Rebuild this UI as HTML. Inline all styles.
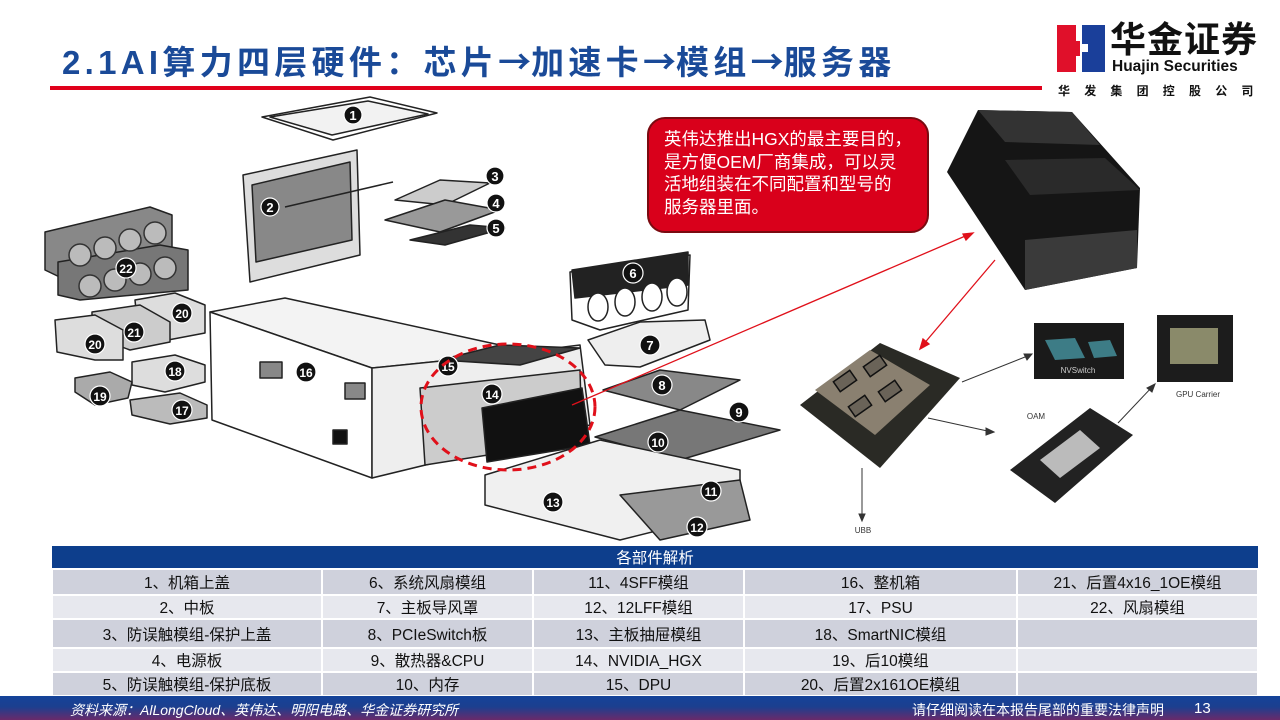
<!DOCTYPE html>
<html><head><meta charset="utf-8"><style>
*{margin:0;padding:0;box-sizing:border-box}
body{width:1280px;height:720px;overflow:hidden;background:#fff;font-family:"Liberation Sans","Noto Sans CJK SC",sans-serif;position:relative}
.abs{position:absolute}
.title{left:62px;top:36px;font-size:33px;font-weight:bold;color:#1a4a98;letter-spacing:4.3px;white-space:nowrap}
.title span{font-family:"Noto Sans CJK SC",sans-serif;letter-spacing:0}
.redline{left:50px;top:86px;width:992px;height:4px;background:#e0001b}
.callout{left:647px;top:117px;width:282px;height:116px;background:#d9001b;border:2px solid #7a0a10;border-radius:18px;color:#fff;font-size:17.5px;line-height:22.5px;padding:9px 0 0 15px;white-space:nowrap}
table{position:absolute;left:51px;top:546px;width:1208px;border-collapse:collapse;font-size:15.5px;color:#111}
td{text-align:center;border:2px solid #fff;padding:0;white-space:nowrap}
tr.h td{background:#0d3e8c;color:#fff;height:21px;border:none}
tr.a td{background:#cfd1dc}
tr.b td{background:#e7e8ee}
.foot{left:0;top:696px;width:1280px;height:24px;background:linear-gradient(180deg,#14439a 0%,#1c3f8f 45%,#6a2a6a 100%)}
</style></head><body>
<div class="abs title">2.1AI算力四层硬件：芯片<span>→</span>加速卡<span>→</span>模组<span>→</span>服务器</div>
<div class="abs redline"></div>

<div class="abs" style="left:1057px;top:25px;width:23px;height:47px;background:#e0102a"></div>
<div class="abs" style="left:1082px;top:25px;width:23px;height:47px;background:#1a3f9a"></div>
<div class="abs" style="left:1076px;top:25px;width:6px;height:16px;background:#fff"></div>
<div class="abs" style="left:1076px;top:56px;width:6px;height:16px;background:#fff"></div>
<div class="abs" style="left:1080px;top:44px;width:8px;height:8px;background:#fff"></div>
<div class="abs" style="left:1110px;top:20px;font-size:36px;font-weight:bold;color:#111;letter-spacing:1px;line-height:40px">华金证券</div>
<div class="abs" style="left:1112px;top:58px;font-size:15.5px;font-weight:bold;color:#111">Huajin Securities</div>
<div class="abs" style="left:1058px;top:82px;font-size:12px;font-weight:bold;color:#111;letter-spacing:14.2px">华发集团控股公司</div>

<svg class="abs" style="left:0;top:0" width="1280" height="545" viewBox="0 0 1280 545">
<g stroke="#222" stroke-width="1.5" fill="#fff" stroke-linejoin="round">
 <polygon points="262,117 370,97 437,113 333,140"/>
 <polygon points="270,117 368,101 428,114 332,135" fill="#f2f2f2"/>
 <polygon points="243,175 357,150 360,255 250,282" fill="#ddd"/>
 <polygon points="252,185 350,162 352,240 256,262" fill="#888"/>
 <line x1="285" y1="207" x2="393" y2="182"/>
 <polygon points="395,200 440,180 490,183 445,205" fill="#ccc"/>
 <polygon points="385,220 445,200 500,210 440,232" fill="#999"/>
 <polygon points="410,240 470,225 505,228 445,245" fill="#333"/>
 <polygon points="45,232 150,207 172,215 172,255 70,282 45,270" fill="#888"/>
 <polygon points="58,262 160,245 188,250 188,290 80,300 58,295" fill="#777"/>
 <g fill="#bbb" stroke="#333"><circle cx="80" cy="255" r="11"/><circle cx="105" cy="248" r="11"/><circle cx="130" cy="240" r="11"/><circle cx="155" cy="233" r="11"/><circle cx="90" cy="286" r="11"/><circle cx="115" cy="280" r="11"/><circle cx="140" cy="274" r="11"/><circle cx="165" cy="268" r="11"/></g>
 <polygon points="135,300 175,293 205,305 205,333 168,340 138,330" fill="#ddd"/>
 <polygon points="92,312 140,305 170,322 170,342 130,350 92,336" fill="#ccc"/>
 <polygon points="55,320 95,315 123,330 123,360 95,360 57,352" fill="#ddd"/>
 <polygon points="132,362 175,355 205,365 205,382 165,392 132,385" fill="#ddd"/>
 <polygon points="75,378 110,372 132,382 128,398 95,405 75,392" fill="#aaa"/>
 <polygon points="130,400 180,393 207,405 207,418 170,424 132,415" fill="#bbb"/>
 <polygon points="210,312 285,298 500,345 500,355 372,368" fill="#f3f3f3"/>
 <polygon points="210,312 372,368 372,478 212,420"/>
 <polygon points="372,368 500,355 580,345 590,425 372,478" fill="#eee"/>
 <rect x="260" y="362" width="22" height="16" fill="#888"/>
 <rect x="345" y="383" width="20" height="16" fill="#888"/>
 <rect x="333" y="430" width="14" height="14" fill="#111"/>
 <polygon points="420,388 580,370 582,440 425,465" fill="#ccc"/>
 <polygon points="482,408 582,388 590,445 487,462" fill="#111"/>
 <polygon points="440,360 500,345 580,348 520,365" fill="#444"/>
 <polygon points="570,272 690,255 688,310 600,330 572,320" fill="#fff"/>
 <polygon points="572,270 688,252 688,285 575,298" fill="#222"/>
 <g fill="#fff"><ellipse cx="598" cy="307" rx="10" ry="14"/><ellipse cx="625" cy="302" rx="10" ry="14"/><ellipse cx="652" cy="297" rx="10" ry="14"/><ellipse cx="677" cy="292" rx="10" ry="14"/></g>
 <polygon points="588,340 640,322 705,320 710,340 640,367 605,365" fill="#eee"/>
 <polygon points="603,390 660,370 740,380 680,410" fill="#888"/>
 <polygon points="595,437 680,410 780,430 680,460" fill="#777"/>
 <polygon points="485,475 600,440 740,470 740,510 620,540 485,505" fill="#f0f0f0"/>
 <polygon points="620,495 740,480 750,520 660,540" fill="#999"/>
</g>
<g font-family="Liberation Sans,sans-serif" font-weight="bold" font-size="13" text-anchor="middle">
 <g fill="#111" stroke="#fff" stroke-width="1.2">
  <circle cx="353" cy="115" r="9"/><circle cx="270" cy="207" r="9"/><circle cx="495" cy="176" r="9"/><circle cx="496" cy="203" r="9"/><circle cx="496" cy="228" r="9"/>
  <circle cx="126" cy="268" r="10"/><circle cx="182" cy="313" r="10"/><circle cx="95" cy="344" r="10"/><circle cx="134" cy="332" r="10"/><circle cx="175" cy="371" r="10"/><circle cx="100" cy="396" r="10"/><circle cx="182" cy="410" r="10"/><circle cx="306" cy="372" r="10"/><circle cx="448" cy="366" r="10"/><circle cx="492" cy="394" r="10"/>
  <circle cx="633" cy="273" r="10"/><circle cx="650" cy="345" r="10"/><circle cx="662" cy="385" r="10"/><circle cx="739" cy="412" r="10"/><circle cx="658" cy="442" r="10"/><circle cx="711" cy="491" r="10"/><circle cx="697" cy="527" r="10"/><circle cx="553" cy="502" r="10"/>
 </g>
 <g fill="#fff" stroke="none">
  <text x="353" y="120">1</text><text x="270" y="212">2</text><text x="495" y="181">3</text><text x="496" y="208">4</text><text x="496" y="233">5</text>
  <text x="126" y="273" font-size="12">22</text><text x="182" y="318" font-size="12">20</text><text x="95" y="349" font-size="12">20</text><text x="134" y="337" font-size="12">21</text><text x="175" y="376" font-size="12">18</text><text x="100" y="401" font-size="12">19</text><text x="182" y="415" font-size="12">17</text><text x="306" y="377" font-size="12">16</text><text x="448" y="371" font-size="12">15</text><text x="492" y="399" font-size="12">14</text>
  <text x="633" y="278">6</text><text x="650" y="350">7</text><text x="662" y="390">8</text><text x="739" y="417">9</text><text x="658" y="447" font-size="12">10</text><text x="711" y="496" font-size="12">11</text><text x="697" y="532" font-size="12">12</text><text x="553" y="507" font-size="12">13</text>
 </g>
</g>
<ellipse cx="508" cy="407" rx="87" ry="63" fill="none" stroke="#e0101a" stroke-width="3" stroke-dasharray="9,6"/>

<polygon points="978,110 1072,112 1140,188 1137,268 1025,290 947,172" fill="#151515"/>
<polygon points="978,110 1072,112 1100,145 1005,142" fill="#333"/>
<polygon points="1005,160 1105,158 1140,190 1030,195" fill="#2a2a2a"/>
<polygon points="1025,240 1137,230 1137,268 1025,290" fill="#3a3a3a"/>
<polygon points="800,405 880,343 960,378 880,468" fill="#2a2a25"/>
<polygon points="815,390 870,350 930,385 875,435" fill="#8a8070"/>
<g stroke="#111" stroke-width="1.5" fill="#6a6358"><rect x="835" y="375" width="20" height="12" transform="rotate(-35 845 381)"/><rect x="865" y="360" width="20" height="12" transform="rotate(-35 875 366)"/><rect x="850" y="400" width="20" height="12" transform="rotate(-35 860 406)"/><rect x="880" y="385" width="20" height="12" transform="rotate(-35 890 391)"/></g>
<rect x="1034" y="323" width="90" height="56" fill="#1a1a1a"/>
<polygon points="1045,340 1075,338 1085,358 1055,360" fill="#3d7c86"/>
<polygon points="1088,342 1110,340 1117,356 1094,358" fill="#3d7c86"/>
<text x="1078" y="373" font-family="Liberation Sans,sans-serif" font-size="8" fill="#ccc" text-anchor="middle">NVSwitch</text>
<rect x="1157" y="315" width="76" height="67" fill="#1c1c1c"/>
<rect x="1170" y="328" width="48" height="36" fill="#8a8a6a"/>
<polygon points="1010,470 1090,408 1133,435 1055,503" fill="#222"/>
<polygon points="1040,460 1080,430 1100,448 1060,478" fill="#bbb"/>
<g font-family="Liberation Sans,sans-serif" font-size="8" fill="#333" text-anchor="middle">
<text x="1198" y="397">GPU Carrier</text><text x="1036" y="419">OAM</text><text x="863" y="533">UBB</text></g>
<g stroke="#333" stroke-width="1" fill="#333">
<line x1="962" y1="382" x2="1030" y2="355"/><polygon points="1032,354 1024,354 1027,360"/>
<line x1="928" y1="418" x2="992" y2="432"/><polygon points="994,432 986,428 986,435"/>
<line x1="1118" y1="423" x2="1153" y2="386"/><polygon points="1155,384 1147,388 1152,392"/>
<line x1="862" y1="468" x2="862" y2="518"/><polygon points="862,521 859,514 865,514"/>
</g>
<g stroke="#e0101a" stroke-width="1.3" fill="#e0101a">
<line x1="572" y1="405" x2="970" y2="234"/><polygon points="973,233 963,234 966,240"/>
<line x1="995" y1="260" x2="922" y2="346"/><polygon points="920,349 923,339 929,344"/>
</g>
</svg>

<div class="abs callout">英伟达推出HGX的最主要目的，<br>是方便OEM厂商集成，可以灵<br>活地组装在不同配置和型号的<br>服务器里面。</div>

<table>
<tr class="h"><td colspan="5" style="height:21px">各部件解析</td></tr>
<tr class="a" style="height:26px"><td style="width:270px">1、机箱上盖</td><td style="width:211px">6、系统风扇模组</td><td style="width:211px">11、4SFF模组</td><td style="width:273px">16、整机箱</td><td>21、后置4x16_1OE模组</td></tr>
<tr class="b" style="height:24px"><td>2、中板</td><td>7、主板导风罩</td><td>12、12LFF模组</td><td>17、PSU</td><td>22、风扇模组</td></tr>
<tr class="a" style="height:29px"><td>3、防误触模组-保护上盖</td><td>8、PCIeSwitch板</td><td>13、主板抽屉模组</td><td>18、SmartNIC模组</td><td></td></tr>
<tr class="b" style="height:23px"><td>4、电源板</td><td>9、散热器&amp;CPU</td><td>14、NVIDIA_HGX</td><td>19、后10模组</td><td></td></tr>
<tr class="a" style="height:23px"><td>5、防误触模组-保护底板</td><td>10、内存</td><td>15、DPU</td><td>20、后置2x161OE模组</td><td></td></tr>
</table>

<div class="abs foot"></div>
<div class="abs" style="left:70px;top:700px;font-size:14px;font-style:italic;color:#fff">资料来源：AlLongCloud、英伟达、明阳电路、华金证券研究所</div>
<div class="abs" style="left:912px;top:700px;font-size:14px;color:#fff">请仔细阅读在本报告尾部的重要法律声明</div>
<div class="abs" style="left:1194px;top:700px;font-size:15px;color:#fff">13</div>
</body></html>
